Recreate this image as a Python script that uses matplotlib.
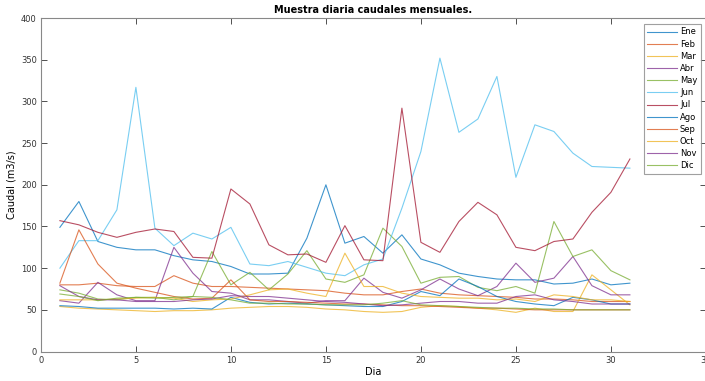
import matplotlib
matplotlib.use("Agg")
import matplotlib.pyplot as plt
import numpy as np

days = list(range(1, 32))
months = ["Ene", "Feb", "Mar", "Abr", "May", "Jun", "Jul", "Ago", "Sep", "Oct", "Nov", "Dic"]

ene = [149,180,132,125,122,122,115,110,108,102,93,93,94,136,200,130,138,118,140,111,104,94,90,87,86,86,81,82,87,80,82]
feb = [80,80,82,79,78,78,91,82,78,78,77,76,75,74,73,70,68,68,72,75,70,68,67,66,65,63,63,62,60,60,60]
mar = [54,52,51,50,49,48,49,49,50,52,53,54,54,53,51,50,48,47,48,53,55,54,52,50,47,52,48,48,92,74,56]
abr = [61,58,83,68,61,61,125,94,72,70,62,62,60,58,61,61,88,71,64,74,87,75,67,78,106,83,88,114,79,68,68]
may = [74,70,63,62,65,65,62,66,120,80,95,74,93,121,87,83,92,148,126,82,89,90,77,73,78,70,156,114,122,97,86]
jun = [100,133,133,170,317,148,127,142,135,149,105,103,108,101,94,91,104,111,172,240,352,263,279,330,209,272,264,238,222,221,220]
jul = [157,152,143,137,143,147,144,113,112,195,177,128,116,117,107,151,110,109,292,131,119,156,179,164,125,121,132,135,167,191,231]
ago = [55,54,52,52,52,52,51,52,51,65,59,57,58,57,56,55,54,54,60,72,67,87,78,66,60,57,55,65,62,57,57]
sep = [82,146,105,82,76,71,66,63,64,86,62,60,60,59,58,57,57,56,55,55,54,53,52,52,51,50,50,50,50,50,50]
octu = [62,62,62,63,64,65,64,60,62,63,68,74,75,70,66,118,78,78,70,66,65,64,64,62,63,60,68,66,62,62,60]
nov = [79,66,62,62,60,60,60,62,63,67,66,66,64,62,60,59,57,55,56,58,60,60,58,58,66,68,62,60,57,57,57]
dic = [69,66,61,64,65,64,65,66,65,62,58,58,57,57,56,56,56,58,61,56,55,54,53,52,52,51,51,50,50,50,50]

series = [ene, feb, mar, abr, may, jun, jul, ago, sep, octu, nov, dic]

base = [(0.000, 0.447, 0.741), (0.850, 0.325, 0.098), (0.929, 0.694, 0.125),
        (0.494, 0.184, 0.556), (0.466, 0.674, 0.188), (0.301, 0.745, 0.933),
        (0.635, 0.078, 0.184)]
colors = [base[i % 7] for i in range(12)]

fig = plt.figure(figsize=(7.05, 3.81), dpi=100)
ax = fig.add_axes([0.058, 0.0774, 0.9433, 0.875])
for name, vals, c in zip(months, series, colors):
    ax.plot(days, vals, color=c, lw=0.8, alpha=0.75, label=name)

ax.set_xlim(0, 35)
ax.set_ylim(0, 400)
ax.set_xticks(range(0, 36, 5))
ax.set_yticks(range(0, 401, 50))
ax.tick_params(direction="in", length=4, width=0.6, labelsize=6, colors="#333333",
               top=True, right=True, pad=3)
for s in ax.spines.values():
    s.set_color("#888888")
    s.set_linewidth(0.8)
ax.set_xlabel("Dia", fontsize=7, labelpad=2)
ax.set_ylabel("Caudal (m3/s)", fontsize=7, labelpad=3)
ax.set_title("Muestra diaria caudales mensuales.", fontsize=7, fontweight="bold", pad=4)

leg = ax.legend(loc="upper right", bbox_to_anchor=(0.992, 0.982), fontsize=6,
                frameon=True, fancybox=False, edgecolor="#888888",
                handlelength=3.5, labelspacing=0.38, borderpad=0.4, handletextpad=0.4,
                borderaxespad=0)
leg.get_frame().set_linewidth(0.8)

fig.savefig("out.png", dpi=100)
